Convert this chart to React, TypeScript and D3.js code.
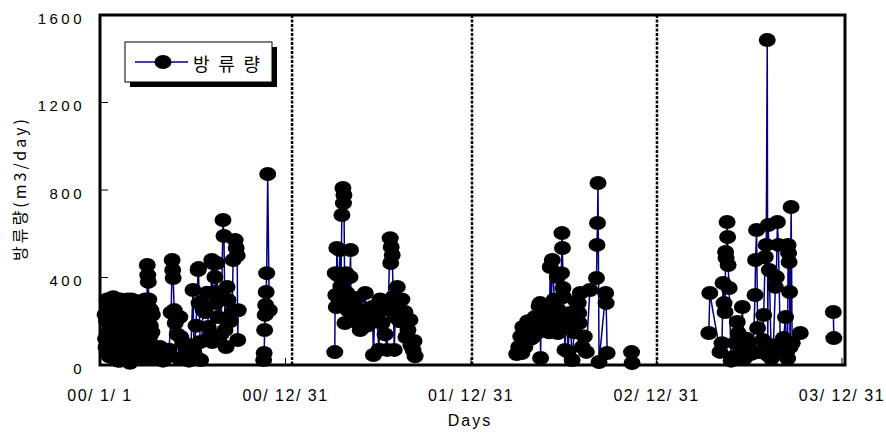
import React from 'react';
import * as d3 from 'd3';

const W = 886;
const H = 434;

// axis ticks
const yTicks = [0, 400, 800, 1200, 1600];
const xTickDays = [0, 365, 730, 1095, 1460];
const xTickLabels = ['00/ 1/ 1', '00/ 12/ 31', '01/ 12/ 31', '02/ 12/ 31', '03/ 12/ 31'];
const yearBreakDays = [378, 732, 1096];
const legendLabel = '방류량';
const yTitle = '방류량(m3/day)';
const xTitle = 'Days';

// [day since 2000-01-01, discharge m3/day]
const flow2000a: [number, number][] = [
  [10, 230], [11, 120], [12, 80], [13, 200], [14, 300], [15, 270], [16, 150], [17, 60], [18, 40], [19, 140], [20, 260], [21, 300],
  [22, 190], [23, 230], [24, 110], [25, 50], [26, 310], [27, 170], [28, 30], [29, 90], [30, 220], [31, 290], [32, 140], [33, 200],
  [34, 270], [35, 20], [36, 60], [37, 120], [38, 180], [39, 250], [40, 20], [41, 300], [42, 250], [43, 160], [44, 100], [46, 200],
  [47, 290], [48, 70], [49, 160], [50, 280], [51, 50], [52, 130], [53, 240], [54, 190], [55, 300], [56, 40], [57, 120], [58, 260],
  [59, 10], [60, 150], [61, 200], [62, 300], [63, 80], [64, 220], [65, 270], [66, 110], [67, 140], [68, 250], [69, 40], [70, 170],
  [71, 230], [72, 290], [73, 180], [74, 60], [75, 100], [76, 210], [77, 290], [78, 140], [79, 60], [80, 250], [81, 210], [82, 90],
  [83, 150], [84, 280], [85, 240], [86, 120], [87, 30], [88, 190], [89, 300], [90, 220], [91, 120], [92, 60], [93, 457], [94, 411],
  [95, 380], [96, 300], [97, 260], [98, 130], [99, 180], [100, 250], [101, 90], [102, 150], [103, 230], [104, 40],
  [110, 30], [114, 60], [118, 82], [124, 20], [128, 50], [132, 37], [136, 70], [140, 240], [142, 480], [143, 434],
  [144, 398], [146, 251], [148, 192], [152, 140], [156, 30], [157, 219], [159, 128], [163, 100], [167, 40], [171, 69],
  [175, 20], [179, 90], [183, 343], [185, 55], [189, 180], [193, 434], [194, 443], [195, 283], [197, 105], [198, 23],
  [203, 250], [207, 242], [211, 330], [213, 174], [217, 130], [220, 480], [221, 105], [222, 466], [226, 402], [227, 334],
  [228, 283], [230, 466], [232, 219], [236, 300], [238, 140], [242, 663], [244, 590], [246, 160], [248, 82], [250, 357],
  [252, 297], [256, 200], [260, 242], [262, 480], [266, 571], [268, 535], [270, 500], [271, 114], [272, 250],
];
const flow2000b: [number, number][] = [
  [322, 23], [323, 55], [324, 160], [325, 229], [326, 274], [327, 334], [328, 420], [330, 873], [333, 250],
];
const flow2001: [number, number][] = [
  [462, 59], [463, 420], [464, 320], [465, 265], [466, 535], [468, 410], [470, 300], [472, 526], [474, 360], [476, 686],
  [478, 809], [479, 740], [480, 777], [482, 192], [484, 420], [486, 329], [488, 250], [492, 402], [493, 526], [494, 265],
  [498, 300], [502, 200], [506, 306], [510, 220], [512, 160], [516, 250], [518, 238], [522, 329], [526, 180], [530, 220],
  [532, 192], [536, 265], [538, 46], [541, 250], [545, 200], [549, 70], [551, 300], [555, 192], [557, 251], [561, 140],
  [565, 69], [567, 260], [571, 580], [572, 466], [573, 540], [575, 503], [577, 311], [579, 69], [581, 219], [585, 357],
  [586, 250], [590, 200], [594, 300], [600, 242], [602, 128], [606, 160], [610, 206], [612, 90], [616, 69], [618, 110], [620, 40],
];
const flow2002a: [number, number][] = [
  [820, 50], [824, 82], [828, 130], [830, 55], [832, 174], [836, 82], [838, 150], [842, 200], [846, 183], [848, 120],
  [852, 128], [856, 220], [858, 180], [862, 150], [864, 270], [866, 283], [867, 32], [868, 219], [872, 250], [876, 180],
  [878, 200], [882, 265], [884, 150], [886, 448], [888, 240], [890, 480], [894, 300], [896, 200], [900, 402], [901, 146],
  [902, 250], [906, 220], [908, 420], [909, 603], [910, 535], [911, 352], [912, 311], [915, 69], [917, 210], [919, 192],
  [921, 60], [925, 238], [929, 23], [933, 150], [937, 290], [941, 283], [942, 238], [943, 192], [945, 329], [949, 82],
  [953, 130], [957, 60], [964, 343], [977, 398], [978, 549], [979, 649], [980, 832], [982, 14], [995, 329], [996, 283], [998, 55],
];
const flow2002b: [number, number][] = [
  [1046, 59], [1047, 9],
];
const flow2003a: [number, number][] = [
  [1198, 146], [1200, 329], [1220, 60], [1224, 100], [1226, 375], [1228, 283], [1230, 242], [1231, 517], [1232, 489], [1234, 654],
  [1235, 585], [1236, 457], [1238, 352], [1242, 20], [1246, 37], [1250, 100], [1254, 197], [1256, 146], [1260, 60], [1264, 265],
  [1268, 30], [1272, 120], [1276, 100], [1280, 50], [1285, 55], [1289, 320], [1290, 480], [1292, 617], [1294, 169], [1298, 60],
  [1304, 114], [1306, 229], [1309, 494], [1311, 549], [1313, 1486], [1314, 46], [1315, 640], [1317, 434], [1321, 30], [1325, 90],
  [1329, 357], [1331, 402], [1333, 654], [1335, 549], [1339, 60], [1345, 123], [1349, 219], [1351, 59], [1353, 30], [1354, 549],
  [1355, 512], [1356, 471], [1357, 334], [1358, 82], [1360, 722], [1362, 100], [1378, 146],
];
const flow2003b: [number, number][] = [
  [1443, 242], [1444, 123],
];

const segments = [flow2000a, flow2000b, flow2001, flow2002a, flow2002b, flow2003a, flow2003b];

const numFont = '"Liberation Sans", Arial, sans-serif';
const korFont = '"Noto Sans CJK KR", "Noto Sans", sans-serif';

export default function App() {
  const x = d3.scaleLinear().domain([0, 1466]).range([100, 845]);
  const y = d3.scaleLinear().domain([0, 1600]).range([365, 15]);
  const line = d3.line<[number, number]>().x(d => x(d[0])).y(d => y(d[1]));

  const navy = '#000080';
  return (
    <svg width={W} height={H} style={{ position: 'absolute', left: 0, top: 0, display: 'block', background: '#fff' }}>
      <rect x={0} y={0} width={W} height={H} fill="#fff" />
      {/* year break dashed lines */}
      {yearBreakDays.map((d, i) => (
        <line key={'b' + i} x1={x(d)} x2={x(d)} y1={y(1600)} y2={y(0)} stroke="#000" strokeWidth={2.5} strokeDasharray="3,1.5" />
      ))}
      {/* series lines */}
      {segments.map((s, i) => (
        <path key={'l' + i} d={line(s) || ''} fill="none" stroke={navy} strokeWidth={1.5} />
      ))}
      {/* markers */}
      {segments.map((s, i) => s.map((p, j) => (
        <ellipse key={'m' + i + '-' + j} cx={x(p[0])} cy={y(p[1])} rx={8.5} ry={7} fill="#000" />
      )))}
      {/* frame */}
      <rect x={100} y={15} width={745} height={350} fill="none" stroke="#000" strokeWidth={3} />
      {/* y ticks */}
      {yTicks.map((t, i) => (
        <g key={'yt' + i}>
          <line x1={100} x2={108} y1={y(t)} y2={y(t)} stroke="#000" strokeWidth={1} />
          <text x={85} y={y(t) + 3} textAnchor="end" dominantBaseline="central" fontFamily={numFont} fontSize={15} letterSpacing={3.5} fill="#000">{t}</text>
        </g>
      ))}
      {/* x ticks */}
      {xTickDays.map((d, i) => (
        <g key={'xt' + i}>
          <line x1={x(d)} x2={x(d)} y1={365} y2={358} stroke="#000" strokeWidth={1} />
          <text x={x(d)} y={401} textAnchor="middle" fontFamily={numFont} fontSize={16} letterSpacing={1.5} fill="#000" style={{ whiteSpace: 'pre' }}>{xTickLabels[i]}</text>
        </g>
      ))}
      {/* axis titles */}
      <text x={470} y={426} textAnchor="middle" fontFamily={numFont} fontSize={16} letterSpacing={2} fill="#000">{xTitle}</text>
      <text transform="translate(19,190) rotate(-90)" textAnchor="middle" dominantBaseline="central" fontFamily={korFont} fontSize={16} textLength={142} lengthAdjust="spacing" fill="#000">{yTitle}</text>
      {/* legend */}
      <rect x={130} y={47} width={147} height={40} fill="#000" />
      <rect x={125} y={42} width={147} height={40} fill="#fff" stroke="#000" strokeWidth={1} />
      <line x1={135} x2={188} y1={62} y2={62} stroke={navy} strokeWidth={1.5} />
      <ellipse cx={163} cy={62} rx={8.5} ry={7} fill="#000" />
      <text x={193} y={63} dominantBaseline="central" fontFamily={korFont} fontSize={18} textLength={67} lengthAdjust="spacing" fill="#000">{legendLabel}</text>
    </svg>
  );
}
